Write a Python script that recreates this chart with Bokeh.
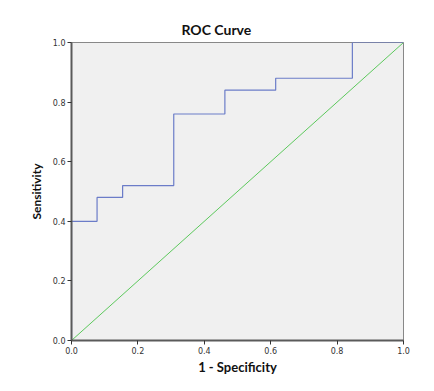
from bokeh.plotting import figure
from bokeh.models import Range1d, FixedTicker, Title
from bokeh.embed import file_html
from bokeh.resources import INLINE

# ROC curve vertices (1 - specificity, sensitivity)
fpr = [0.0, 0.0, 0.077, 0.077, 0.154, 0.154, 0.308, 0.308, 0.462, 0.462, 0.615, 0.615, 0.846, 0.846, 1.0]
tpr = [0.0, 0.40, 0.40, 0.48, 0.48, 0.52, 0.52, 0.76, 0.76, 0.84, 0.84, 0.88, 0.88, 1.0, 1.0]
ref_x = [0.0, 1.0]
ref_y = [0.0, 1.0]
ticks = [0.0, 0.2, 0.4, 0.6, 0.8, 1.0]

FONT = "DejaVu Sans"
LFONT = "Lato"

p = figure(width=426, height=383, output_backend="svg", toolbar_location=None,
           x_range=Range1d(0, 1), y_range=Range1d(0, 1),
           min_border_left=71, min_border_right=23, min_border_top=42, min_border_bottom=43)
p.title = None
t = Title(text="ROC Curve", align="left", offset=110, text_font=LFONT,
          text_font_size="14px", text_font_style="bold", text_color="#111111")
p.add_layout(t, "above")

p.background_fill_color = "#f0f0f0"
p.border_fill_color = "white"
p.outline_line_color = "#888888"
p.outline_line_width = 1
p.grid.visible = False

p.line(ref_x, ref_y, line_color="#5cc85c", line_width=1)
p.line(fpr, tpr, line_color="#6b7cc8", line_width=1.2)

for ax in (p.xaxis, p.yaxis):
    ax.ticker = FixedTicker(ticks=ticks)
    ax.minor_tick_line_color = None
    ax.axis_line_color = "#5a5a5a"
    ax.axis_line_width = 2
    ax.major_tick_line_color = "#333333"
    ax.major_tick_line_width = 1
    ax.major_tick_in = 0
    ax.major_tick_out = 4
    ax.major_label_text_font = FONT
    ax.major_label_text_font_size = "8px"
    ax.major_label_text_color = "#333333"
    ax.axis_label_text_font = LFONT
    ax.axis_label_text_font_size = "12px"
    ax.axis_label_text_font_style = "bold"
    ax.axis_label_text_color = "#111111"

p.xaxis.axis_label = "1 - Specificity"
p.yaxis.axis_label = "Sensitivity"
p.xaxis.axis_label_text_font_size = "13px"
p.xaxis.major_label_overrides = {v: f"{v:.1f}" for v in ticks}
p.yaxis.major_label_overrides = {v: f"{v:.1f}" for v in ticks}
p.xaxis.major_label_standoff = 2
p.yaxis.major_label_standoff = 2
p.xaxis.axis_label_standoff = 2
p.yaxis.axis_label_standoff = 6

open("out.html", "w").write(file_html(p, INLINE))
